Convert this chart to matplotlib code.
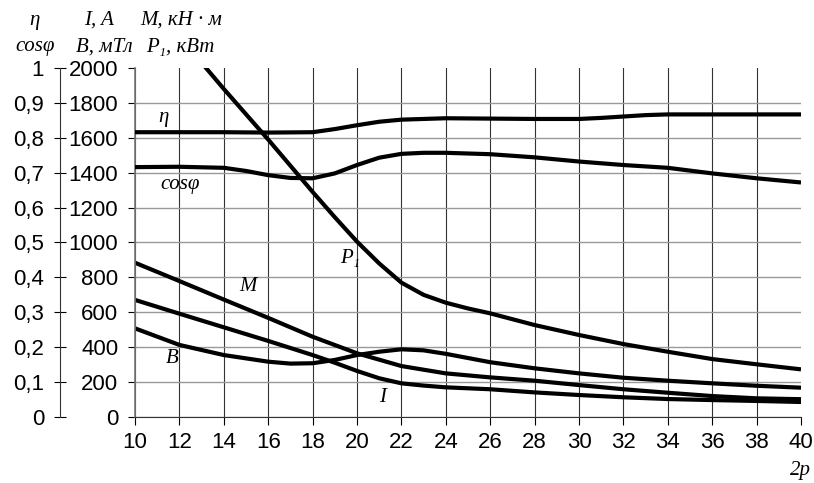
import numpy as np
import matplotlib
matplotlib.use('Agg')
import matplotlib.pyplot as plt
from matplotlib.ticker import FuncFormatter

# 2p values and curves
x_eta = [10, 12, 14, 16, 18, 19, 20, 21, 22, 23, 24, 26, 28, 30, 31, 32, 33, 34, 36, 38, 40]
eta = [0.816, 0.816, 0.816, 0.815, 0.816, 0.825, 0.836, 0.846, 0.852, 0.854, 0.856, 0.855,
       0.854, 0.854, 0.857, 0.861, 0.865, 0.867, 0.867, 0.867, 0.867]

x_cos = [10, 12, 14, 15, 16, 17, 18, 19, 20, 21, 22, 23, 24, 26, 28, 30, 32, 34, 36, 38, 40]
cosphi = [0.716, 0.717, 0.714, 0.705, 0.693, 0.685, 0.684, 0.698, 0.722, 0.743, 0.754, 0.757,
          0.757, 0.753, 0.744, 0.732, 0.722, 0.714, 0.698, 0.684, 0.672]

x_p1 = [13, 14, 15, 16, 17, 18, 19, 20, 21, 22, 23, 24, 25, 26, 28, 30, 32, 34, 36, 38, 40]
p1 = [2030, 1880, 1735, 1590, 1440, 1290, 1145, 1005, 880, 770, 700, 655, 622, 594, 527,
      470, 418, 374, 332, 302, 273]

x_m = [10, 12, 14, 16, 18, 20, 22, 24, 26, 28, 30, 32, 34, 36, 38, 40]
m = [884, 779, 673, 568, 460, 365, 292, 250, 227, 208, 183, 159, 139, 120, 107, 102]

x_i = [10, 12, 14, 16, 18, 19, 20, 21, 22, 23, 24, 26, 28, 30, 32, 34, 36, 38, 40]
cur = [671, 592, 514, 436, 355, 311, 264, 222, 193, 180, 170, 159, 141, 126, 113, 103, 97, 92, 86]

x_b = [10, 12, 14, 16, 17, 18, 19, 20, 21, 22, 23, 24, 26, 28, 30, 32, 34, 36, 38, 40]
b = [508, 413, 355, 317, 306, 308, 327, 355, 374, 388, 382, 362, 314, 279, 250, 225, 208,
     193, 179, 168]

xticks = list(range(10, 41, 2))
yticks = list(range(0, 2001, 200))
eta_ticks = [i / 10 for i in range(11)]

W, H = 814, 483
fig = plt.figure(figsize=(W / 100, H / 100), dpi=100)
rect = [135 / W, 1 - 417 / H, (801 - 135) / W, (417 - 68) / H]
ax = fig.add_axes(rect)

tick_font = {'family': 'Liberation Sans', 'size': 16}
lab_font = dict(family=['Liberation Serif', 'DejaVu Serif'], style='italic', size=15)

ax.set_xlim(10, 40)
ax.set_ylim(0, 2000)
ax.set_xticks(xticks)
ax.set_yticks(yticks)
ax.set_xticklabels([str(v) for v in xticks], fontdict=tick_font)
ax.set_yticklabels([str(v) for v in yticks], fontdict=tick_font)
ax.tick_params(axis='x', direction='out', length=6, width=0.8, pad=5)
ax.tick_params(axis='y', direction='out', length=5, width=0.8, pad=7)
for s in ['top', 'right']:
    ax.spines[s].set_visible(False)
ax.spines['left'].set_color('#777777')
ax.spines['bottom'].set_color('#333333')
ax.spines['left'].set_linewidth(1.2)

ax.grid(True, axis='x', color='#333333', linewidth=0.8)
ax.grid(True, axis='y', color='#999999', linewidth=1.0)
ax.get_xgridlines()[-1].set_visible(False)
ax.get_ygridlines()[-1].set_visible(False)
ax.set_axisbelow(True)

lw = 3.0
ax.plot(x_p1, p1, color='black', lw=lw, solid_capstyle='butt')
ax.plot(x_m, m, color='black', lw=lw, solid_capstyle='butt')
ax.plot(x_i, cur, color='black', lw=lw, solid_capstyle='butt')
ax.plot(x_b, b, color='black', lw=lw, solid_capstyle='butt')

# efficiency / power factor scale on the far left
ax2 = ax.twinx()
ax2.set_ylim(0, 1)
ax2.yaxis.set_ticks_position('left')
ax2.spines['left'].set_position(('outward', 75 * 0.72))
ax2.spines['left'].set_color('#333333')
for s in ['top', 'right', 'bottom']:
    ax2.spines[s].set_visible(False)
ax2.set_yticks(eta_ticks)
ax2.yaxis.set_major_formatter(FuncFormatter(lambda v, p: ('%g' % round(v, 1)).replace('.', ',')))
for t in ax2.get_yticklabels():
    t.set_fontfamily('Liberation Sans')
    t.set_fontsize(16)
ax2.tick_params(axis='y', direction='inout', length=9, width=0.8, pad=7)

ax2.plot(x_eta, eta, color='black', lw=lw, solid_capstyle='butt')
ax2.plot(x_cos, cosphi, color='black', lw=lw, solid_capstyle='butt')

# curve labels
ax.text(11.26, 1714, 'η', ha='center', va='center', **lab_font)
ax.text(12.03, 1335, 'cosφ', ha='center', va='center', **lab_font)
ax.text(19.68, 911, 'P₁', ha='center', va='center', **lab_font)
ax.text(15.09, 745, 'M', ha='center', va='center', **lab_font)
ax.text(11.67, 338, 'B', ha='center', va='center', **lab_font)
ax.text(21.17, 109, 'I', ha='center', va='center', **lab_font)

# axis headers
fig.text(34 / W, 1 - 20 / H, 'η', ha='center', va='center', **lab_font)
fig.text(35 / W, 1 - 47 / H, 'cosφ', ha='center', va='center', **lab_font)
fig.text(99 / W, 1 - 20 / H, 'I, A', ha='center', va='center', **lab_font)
fig.text(104 / W, 1 - 47 / H, 'B, мТл', ha='center', va='center', **lab_font)
fig.text(181 / W, 1 - 20 / H, 'M, кН · м', ha='center', va='center', **lab_font)
fig.text(180 / W, 1 - 47 / H, 'P₁, кВт', ha='center', va='center', **lab_font)
fig.text(800 / W, 1 - 470 / H, '2p', ha='center', va='center', **lab_font)

fig.savefig('out.png', dpi=100)
